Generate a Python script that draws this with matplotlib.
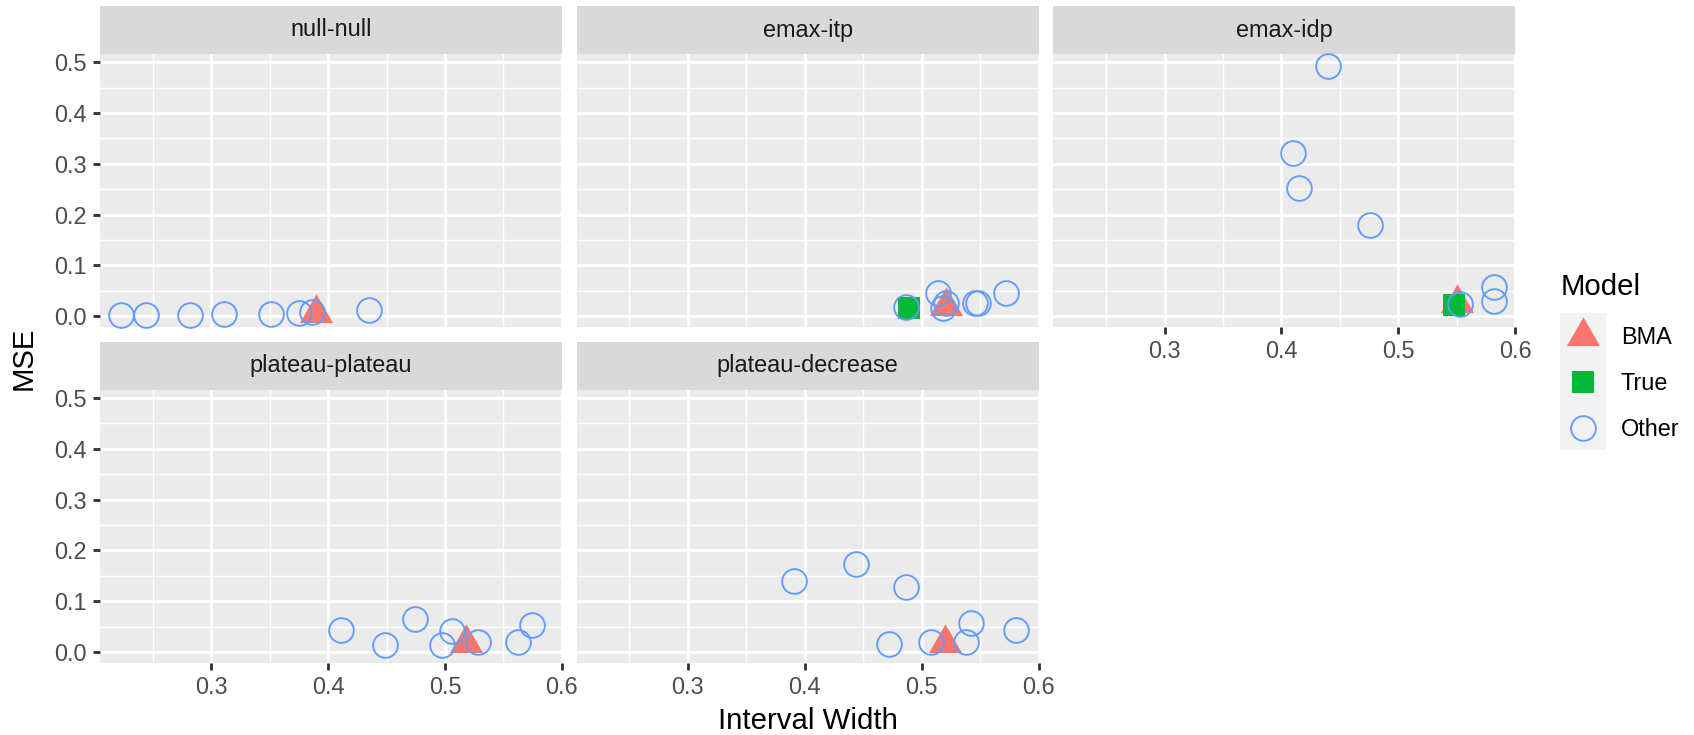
import matplotlib
matplotlib.use("Agg")
import matplotlib.pyplot as plt
import numpy as np
from matplotlib.path import Path

plt.rcParams['font.family'] = ['Liberation Sans', 'DejaVu Sans']

W, H, DPI = 1694, 735, 192

# ---- data -------------------------------------------------------------
facets = ["null-null", "emax-itp", "emax-idp", "plateau-plateau", "plateau-decrease"]

bma_width = [0.390, 0.5206, 0.5505, 0.5183, 0.5198]
bma_mse = [0.007, 0.019, 0.025, 0.017, 0.017]

true_width = [None, 0.4893, 0.5473, None, None]
true_mse = [None, 0.0163, 0.021, None, None]

other_width_null_null = [0.2228, 0.244, 0.282, 0.311, 0.351, 0.375, 0.386, 0.4348]
other_mse_null_null = [0.0026, 0.0026, 0.0026, 0.004, 0.0046, 0.0065, 0.0085, 0.012]

other_width_emax_itp = [0.4869, 0.514, 0.521, 0.518, 0.546, 0.548, 0.572]
other_mse_emax_itp = [0.018, 0.046, 0.026, 0.016, 0.025, 0.025, 0.046]

other_width_emax_idp = [0.440, 0.410, 0.4146, 0.4757, 0.5822, 0.5818, 0.5526]
other_mse_emax_idp = [0.4915, 0.3216, 0.2516, 0.1797, 0.0575, 0.0294, 0.0248]

other_width_plateau_plateau = [0.411, 0.449, 0.4748, 0.4972, 0.506, 0.5281, 0.5625, 0.5742]
other_mse_plateau_plateau = [0.0425, 0.0144, 0.0647, 0.0144, 0.0418, 0.0196, 0.0196, 0.0523]

other_width_plateau_decrease = [0.3912, 0.4441, 0.4864, 0.4719, 0.5079, 0.5382, 0.5424, 0.5806]
other_mse_plateau_decrease = [0.139, 0.174, 0.128, 0.0157, 0.0203, 0.0196, 0.0569, 0.0425]

other_width = [other_width_null_null, other_width_emax_itp, other_width_emax_idp,
               other_width_plateau_plateau, other_width_plateau_decrease]
other_mse = [other_mse_null_null, other_mse_emax_itp, other_mse_emax_idp,
             other_mse_plateau_plateau, other_mse_plateau_decrease]

legend_labels = ["BMA", "True", "Other"]
x_ticks = [0.3, 0.4, 0.5, 0.6]
y_ticks = [0.0, 0.1, 0.2, 0.3, 0.4, 0.5]

# ---- styling ----------------------------------------------------------
COL_BMA, COL_TRUE, COL_OTHER = "#F8766D", "#00BA38", "#619CFF"
tri_path = Path([(0, 1.5551), (1.3468, -0.7776), (-1.3468, -0.7776), (0, 1.5551)],
                [Path.MOVETO, Path.LINETO, Path.LINETO, Path.CLOSEPOLY])
STYLE_BMA = dict(marker=tri_path, markersize=14.36, color=COL_BMA, mew=0, linestyle="none")
STYLE_TRUE = dict(marker="s", markersize=8.19, color=COL_TRUE, mew=0, linestyle="none")
STYLE_OTHER = dict(marker="o", markersize=9.25, mfc="none", mec=COL_OTHER, mew=0.71,
                   linestyle="none")


def ext(vals):
    lo, hi = min(vals), max(vals)
    r = hi - lo
    return lo - 0.05 * r, hi + 0.05 * r


all_x = bma_width + [v for v in true_width if v is not None] + sum(other_width, [])
all_y = bma_mse + [v for v in true_mse if v is not None] + sum(other_mse, [])
xlim = ext(all_x)
ylim = ext(all_y)

fig = plt.figure(figsize=(W / DPI, H / DPI), dpi=DPI)


def box(left, top, width, height):
    return [left / W, 1 - (top + height) / H, width / W, height / H]


left0, pw, gap = 100.0, 462.0, 14.7
strip_h, ph = 48.0, 273.2
row_top = [6.0, 6.0 + strip_h + ph + 14.6]
positions = [(0, 0), (0, 1), (0, 2), (1, 0), (1, 1)]
has_xaxis = [False, False, True, True, True]

for i, name in enumerate(facets):
    r, c = positions[i]
    x0 = left0 + c * (pw + gap)
    st = row_top[r]
    # strip
    sax = fig.add_axes(box(x0, st, pw, strip_h))
    sax.set_facecolor("#D9D9D9")
    sax.set_xticks([])
    sax.set_yticks([])
    for s in sax.spines.values():
        s.set_visible(False)
    sax.text(0.5, 0.5, name, transform=sax.transAxes, ha="center", va="center",
             fontsize=8.8, color="#1A1A1A")

    ax = fig.add_axes(box(x0, st + strip_h, pw, ph))
    ax.set_facecolor("#EBEBEB")
    for s in ax.spines.values():
        s.set_visible(False)
    ax.set_xlim(xlim)
    ax.set_ylim(ylim)
    ax.set_xticks(x_ticks)
    ax.set_xticks([0.25, 0.35, 0.45, 0.55], minor=True)
    ax.set_yticks(y_ticks)
    ax.set_yticks([0.05, 0.15, 0.25, 0.35, 0.45], minor=True)
    ax.grid(True, which="major", color="white", linewidth=1.07)
    ax.grid(True, which="minor", color="white", linewidth=0.53)
    ax.set_axisbelow(True)
    ax.tick_params(which="minor", length=0)
    ax.tick_params(which="major", length=2.74, width=1.07, color="#333333",
                   labelsize=8.8, labelcolor="#4D4D4D", pad=2.19)
    ax.set_yticklabels([f"{v:.1f}" for v in y_ticks])
    ax.set_xticklabels([f"{v:.1f}" for v in x_ticks])
    if c != 0:
        ax.tick_params(axis="y", which="both", left=False, labelleft=False)
    if not has_xaxis[i]:
        ax.tick_params(axis="x", which="both", bottom=False, labelbottom=False)

    ax.plot([bma_width[i]], [bma_mse[i]], clip_on=False, **STYLE_BMA)
    if true_width[i] is not None:
        ax.plot([true_width[i]], [true_mse[i]], clip_on=False, **STYLE_TRUE)
    ax.plot(other_width[i], other_mse[i], clip_on=False, **STYLE_OTHER)

# axis titles
fig.text(24 / W, 1 - (54 + 663) / 2 / H, "MSE", rotation=90, ha="center", va="center",
         fontsize=11, color="black")
fig.text(808 / W, 1 - 729 / H, "Interval Width", ha="center", va="baseline",
         fontsize=11, color="black")

# legend
fig.text(1560.7 / W, 1 - 295 / H, "Model", ha="left", va="baseline", fontsize=11,
         color="black")
key_top, key_h = 313.0, 45.8
lax = fig.add_axes(box(1560, key_top, 46, 3 * key_h))
lax.set_facecolor("#F2F2F2")
lax.set_xticks([])
lax.set_yticks([])
for s in lax.spines.values():
    s.set_visible(False)
lax.set_xlim(0, 1)
lax.set_ylim(3, 0)
lax.plot([0.5], [0.5], **STYLE_BMA)
lax.plot([0.5], [1.5], **STYLE_TRUE)
lax.plot([0.5], [2.5], **STYLE_OTHER)
for k, lab in enumerate(legend_labels):
    yc = key_top + key_h * (k + 0.5)
    fig.text(1620.7 / W, 1 - (yc + 8.4) / H, lab, ha="left", va="baseline",
             fontsize=8.8, color="black")

fig.savefig("out.png", dpi=DPI)
